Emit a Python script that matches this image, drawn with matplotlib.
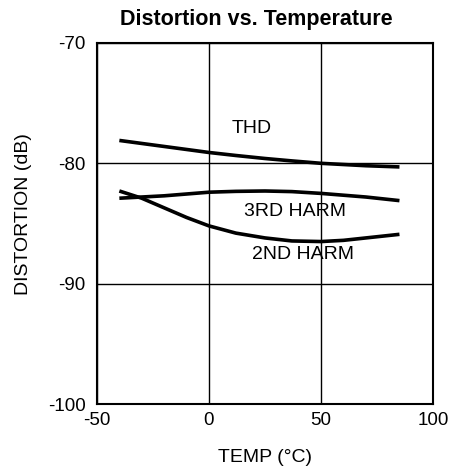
import numpy as np
import matplotlib.pyplot as plt

plt.rcParams['font.family'] = ['Liberation Sans', 'DejaVu Sans']
plt.rcParams['axes.unicode_minus'] = False

temp = [-40, -30, -20, -10, 0, 12, 25, 37, 50, 60, 70, 85]
thd = [-78.1, -78.35, -78.6, -78.85, -79.1, -79.35, -79.6, -79.8, -80.0, -80.1, -80.2, -80.3]
harm3 = [-82.9, -82.8, -82.7, -82.55, -82.4, -82.33, -82.3, -82.35, -82.5, -82.65, -82.8, -83.1]
harm2 = [-82.3, -82.9, -83.7, -84.5, -85.2, -85.8, -86.2, -86.45, -86.5, -86.4, -86.2, -85.9]

fig = plt.figure(figsize=(4.53, 4.72), dpi=100)
ax = fig.add_axes([0.214, 0.144, 0.742, 0.765])

for y in (thd, harm3, harm2):
    ax.plot(temp, y, color='black', lw=2.6, solid_capstyle='butt')

ax.text(19, -77.1, 'THD', ha='center', va='center', fontsize=14)
ax.text(38.5, -84.0, '3RD HARM', ha='center', va='center', fontsize=14)
ax.text(42, -87.6, '2ND HARM', ha='center', va='center', fontsize=14)

ax.set_xlim(-50, 100)
ax.set_ylim(-100, -70)
ax.set_xticks([-50, 0, 50, 100])
ax.set_yticks([-100, -90, -80, -70])
ax.tick_params(length=0, labelsize=13.5)
ax.tick_params(axis='y', pad=8)
ax.tick_params(axis='x', pad=6)
ax.grid(True, color='black', lw=1)
for s in ax.spines.values():
    s.set_linewidth(1.5)

ax.set_xlabel('TEMP (°C)', fontsize=14, labelpad=14)
ax.set_ylabel('DISTORTION (dB)', fontsize=14)
ax.yaxis.label.set_va('center')
ax.yaxis.set_label_coords(24 / 453, 1 - 214 / 472, transform=fig.transFigure)
fig.text(256 / 453, 1 - 20 / 472, 'Distortion vs. Temperature', ha='center', va='center',
         fontsize=15.5, fontweight='bold')

fig.savefig('out.png', dpi=100)
